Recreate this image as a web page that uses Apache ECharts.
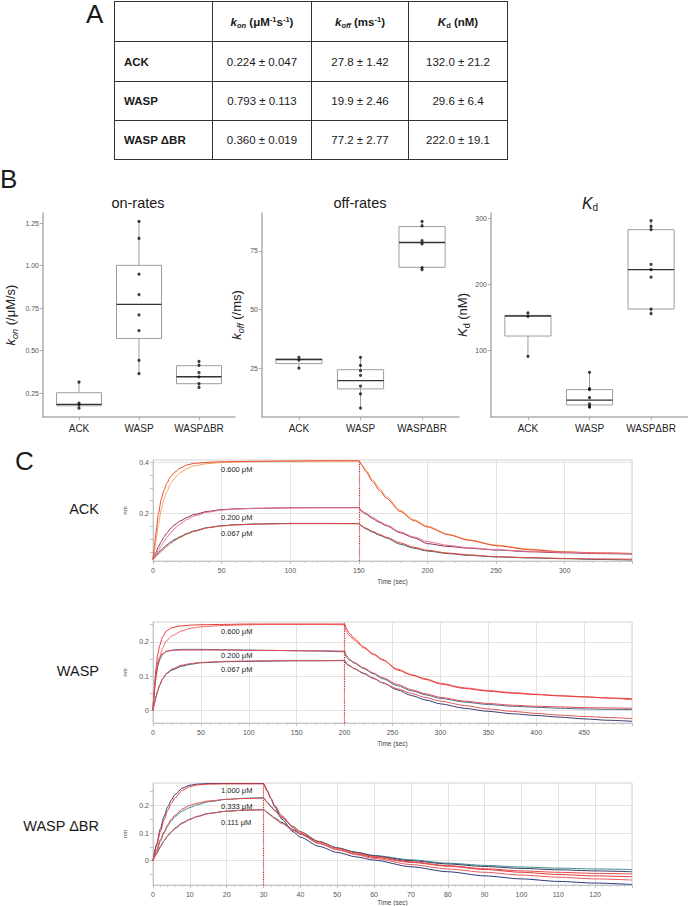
<!DOCTYPE html>
<html><head><meta charset="utf-8">
<script src="https://cdn.jsdelivr.net/npm/echarts@6/dist/echarts.min.js"></script>
<style>
html,body{margin:0;padding:0;background:#fff;}
#wrap{position:relative;width:688px;height:906px;overflow:hidden;}
#chart{position:absolute;left:0;top:0;width:688px;height:906px;}
#tbl{position:absolute;left:114px;top:1px;z-index:5;border-collapse:collapse;table-layout:fixed;width:393px;
 font-family:'Liberation Sans',Arial,sans-serif;font-size:11.5px;color:#1a1a1a;}
#tbl td{border:1.5px solid #333;padding:0;text-align:center;vertical-align:middle;white-space:nowrap;}
#tbl td.rl{text-align:left;padding-left:9px;font-weight:bold;}
#tbl td.h{font-weight:bold;}
#tbl sub,#tbl sup{font-size:7.5px;line-height:0;}
#tbl sub{vertical-align:-2px;}
#tbl sup{vertical-align:4px;}
</style></head>
<body>
<div id="wrap">
<div id="chart"></div>
<table id="tbl"><colgroup><col style="width:98px"><col style="width:99px"><col style="width:97px"><col style="width:99px"></colgroup><tbody id="tb"></tbody></table>
</div>
<script>
const FONT = "'Liberation Sans', Arial, Helvetica, sans-serif";

// ---------- A: table values ----------
const tableRows = ['ACK', 'WASP', 'WASP ΔBR'];
const konMean = [0.224, 0.793, 0.360];
const konErr = [0.047, 0.113, 0.019];
const koffMean = [27.8, 19.9, 77.2];
const koffErr = [1.42, 2.46, 2.77];
const kdMean = [132.0, 29.6, 222.0];
const kdErr = [21.2, 6.4, 19.1];

// ---------- B: box plots ----------
const boxCats = ['ACK', 'WASP', 'WASPΔBR'];
// [lower whisker, Q1, median, Q3, upper whisker]
const onBox = [[0.161, 0.175, 0.183, 0.252, 0.315], [0.364, 0.571, 0.772, 1.002, 1.26], [0.283, 0.305, 0.346, 0.411, 0.437]];
const onPts = [[0.315, 0.19, 0.181, 0.161], [1.26, 1.16, 0.95, 0.83, 0.71, 0.617, 0.443, 0.364], [0.437, 0.413, 0.37, 0.345, 0.305, 0.283]];
const offBox = [[25.0, 26.9, 28.6, 29.0, 29.6], [7.9, 16.1, 19.6, 24.3, 29.6], [67.0, 68.0, 78.6, 85.4, 87.6]];
const offPts = [[29.6, 28.4, 25.0], [29.6, 26.1, 23.9, 21.9, 17.3, 14.0, 7.9], [87.6, 85.7, 79.4, 78.0, 67.9, 67.0]];
const kdBox = [[90.4, 121.2, 151.5, 152.5, 156.1], [13.6, 16.7, 24.2, 40.0, 66.2], [155.0, 162.1, 221.7, 282.3, 296.0]];
const kdPts = [[156.1, 151.0, 90.4], [66.2, 41.4, 40.0, 27.8, 18.2, 14.6, 13.6], [296.0, 287.4, 282.3, 229.8, 221.7, 210.6, 162.1, 155.0]];
const onTicks = [0.25, 0.5, 0.75, 1.0, 1.25];
const offTicks = [25, 50, 75];
const kdTicks = [100, 200, 300];

// ---------- C: sensorgrams ----------
const ackTime = [0, 1, 2, 4, 6, 8, 10, 13, 16, 20, 25, 30, 40, 50, 60, 75, 100, 125, 150, 152, 155, 160, 165, 170, 180, 190, 200, 215, 230, 250, 275, 300, 325, 349];
const ack600fit = [0.02, 0.07, 0.12, 0.2, 0.255, 0.29, 0.318, 0.345, 0.362, 0.378, 0.39, 0.396, 0.4, 0.402, 0.403, 0.404, 0.405, 0.406, 0.406, 0.39, 0.365, 0.325, 0.29, 0.26, 0.208, 0.172, 0.147, 0.117, 0.095, 0.074, 0.058, 0.049, 0.045, 0.043];
const ack600dat = [0.02, 0.05, 0.09, 0.16, 0.215, 0.255, 0.285, 0.318, 0.34, 0.36, 0.376, 0.386, 0.395, 0.399, 0.401, 0.403, 0.404, 0.405, 0.405, 0.392, 0.37, 0.332, 0.298, 0.266, 0.213, 0.176, 0.15, 0.119, 0.097, 0.076, 0.06, 0.05, 0.046, 0.044];
const ack200dat = [0.024, 0.035, 0.047, 0.07, 0.09, 0.108, 0.123, 0.142, 0.157, 0.171, 0.185, 0.196, 0.208, 0.215, 0.218, 0.22, 0.222, 0.223, 0.223, 0.207, 0.198, 0.18, 0.165, 0.152, 0.125, 0.105, 0.082, 0.071, 0.064, 0.057, 0.05, 0.046, 0.043, 0.041];
const ack200fit = [0.024, 0.03, 0.038, 0.056, 0.073, 0.09, 0.105, 0.125, 0.142, 0.16, 0.177, 0.19, 0.205, 0.213, 0.217, 0.22, 0.222, 0.222, 0.222, 0.212, 0.202, 0.185, 0.169, 0.155, 0.128, 0.108, 0.09, 0.075, 0.066, 0.058, 0.052, 0.048, 0.045, 0.043];
const ack067dat = [0.021, 0.028, 0.035, 0.048, 0.058, 0.068, 0.077, 0.089, 0.099, 0.11, 0.122, 0.132, 0.145, 0.152, 0.156, 0.159, 0.161, 0.161, 0.16, 0.15, 0.14, 0.127, 0.115, 0.104, 0.08, 0.064, 0.053, 0.043, 0.036, 0.03, 0.026, 0.023, 0.02, 0.018];
const ack067fit = [0.021, 0.026, 0.031, 0.042, 0.052, 0.062, 0.071, 0.084, 0.095, 0.107, 0.12, 0.13, 0.144, 0.151, 0.155, 0.158, 0.16, 0.16, 0.16, 0.152, 0.143, 0.13, 0.118, 0.107, 0.085, 0.068, 0.056, 0.045, 0.038, 0.031, 0.027, 0.024, 0.022, 0.021];

const waspTime = [0, 1, 2, 3, 5, 7, 10, 14, 20, 30, 40, 50, 75, 100, 125, 150, 175, 200, 202, 205, 210, 220, 230, 240, 255, 270, 285, 300, 325, 350, 375, 400, 425, 450, 475, 500];
const wasp600fit = [0, 0.045, 0.085, 0.12, 0.165, 0.19, 0.215, 0.232, 0.242, 0.247, 0.249, 0.25, 0.251, 0.252, 0.252, 0.252, 0.252, 0.252, 0.238, 0.225, 0.21, 0.185, 0.165, 0.148, 0.118, 0.103, 0.09, 0.077, 0.064, 0.056, 0.05, 0.046, 0.042, 0.039, 0.036, 0.034];
const wasp600dat = [0, 0.035, 0.065, 0.09, 0.128, 0.155, 0.182, 0.203, 0.218, 0.232, 0.24, 0.244, 0.248, 0.25, 0.251, 0.251, 0.251, 0.25, 0.228, 0.218, 0.205, 0.182, 0.163, 0.146, 0.121, 0.104, 0.092, 0.079, 0.066, 0.058, 0.052, 0.047, 0.043, 0.04, 0.036, 0.031];
const wasp200dat = [0, 0.04, 0.075, 0.1, 0.13, 0.148, 0.164, 0.172, 0.176, 0.178, 0.178, 0.178, 0.177, 0.176, 0.175, 0.174, 0.173, 0.171, 0.155, 0.147, 0.138, 0.122, 0.107, 0.092, 0.072, 0.057, 0.045, 0.035, 0.024, 0.017, 0.012, 0.009, 0.006, 0.004, 0.003, 0.002];
const wasp200fit = [0, 0.05, 0.085, 0.11, 0.14, 0.155, 0.166, 0.172, 0.175, 0.176, 0.176, 0.176, 0.176, 0.175, 0.175, 0.174, 0.174, 0.173, 0.16, 0.15, 0.14, 0.124, 0.109, 0.095, 0.076, 0.06, 0.048, 0.038, 0.027, 0.02, 0.015, 0.012, 0.01, 0.008, 0.007, 0.006];
const wasp067dat = [0, 0.015, 0.028, 0.04, 0.058, 0.074, 0.092, 0.107, 0.118, 0.129, 0.135, 0.139, 0.142, 0.143, 0.144, 0.145, 0.145, 0.146, 0.135, 0.13, 0.122, 0.108, 0.094, 0.08, 0.06, 0.043, 0.03, 0.019, 0.006, -0.003, -0.01, -0.015, -0.02, -0.025, -0.029, -0.032];
const wasp067fit = [0, 0.012, 0.024, 0.036, 0.056, 0.073, 0.092, 0.108, 0.121, 0.132, 0.137, 0.14, 0.143, 0.144, 0.145, 0.145, 0.145, 0.145, 0.138, 0.131, 0.122, 0.107, 0.093, 0.08, 0.063, 0.049, 0.037, 0.027, 0.014, 0.004, -0.003, -0.009, -0.014, -0.018, -0.021, -0.024];

const dbrTime = [0, 1, 2, 3, 4, 5, 6, 8, 10, 12, 15, 20, 25, 30, 31, 32, 33, 35, 38, 40, 45, 50, 55, 60, 70, 80, 90, 100, 110, 120, 130];
const dbr1000dat = [0, 0.06, 0.115, 0.16, 0.195, 0.22, 0.24, 0.263, 0.273, 0.277, 0.279, 0.279, 0.279, 0.279, 0.255, 0.225, 0.195, 0.15, 0.105, 0.085, 0.052, 0.03, 0.014, 0.002, -0.022, -0.04, -0.055, -0.066, -0.075, -0.081, -0.086];
const dbr1000fit = [0, 0.055, 0.105, 0.148, 0.182, 0.208, 0.228, 0.255, 0.268, 0.274, 0.277, 0.278, 0.278, 0.278, 0.25, 0.225, 0.2, 0.162, 0.12, 0.098, 0.062, 0.04, 0.024, 0.012, -0.006, -0.02, -0.032, -0.042, -0.05, -0.055, -0.058];
const dbr333dat = [0, 0.035, 0.07, 0.1, 0.125, 0.145, 0.16, 0.18, 0.192, 0.202, 0.213, 0.222, 0.226, 0.228, 0.212, 0.197, 0.183, 0.158, 0.124, 0.105, 0.07, 0.047, 0.031, 0.019, 0.003, -0.009, -0.017, -0.023, -0.027, -0.03, -0.032];
const dbr333fit = [0, 0.04, 0.075, 0.105, 0.13, 0.15, 0.165, 0.187, 0.2, 0.208, 0.216, 0.222, 0.225, 0.226, 0.21, 0.195, 0.18, 0.155, 0.123, 0.104, 0.069, 0.045, 0.028, 0.015, -0.004, -0.018, -0.029, -0.037, -0.042, -0.046, -0.048];
const dbr111dat = [0, 0.025, 0.05, 0.072, 0.09, 0.105, 0.118, 0.137, 0.15, 0.16, 0.171, 0.179, 0.183, 0.184, 0.175, 0.165, 0.155, 0.138, 0.113, 0.098, 0.068, 0.046, 0.03, 0.017, 0.0, -0.012, -0.021, -0.028, -0.033, -0.037, -0.04];
const dbr111fit = [0, 0.028, 0.052, 0.072, 0.089, 0.104, 0.116, 0.135, 0.149, 0.159, 0.17, 0.179, 0.183, 0.184, 0.173, 0.162, 0.152, 0.134, 0.11, 0.095, 0.063, 0.04, 0.022, 0.008, -0.014, -0.03, -0.042, -0.052, -0.06, -0.066, -0.07];

const switchTimes = [150, 200, 30];
const concLabels = [['0.600 μM', '0.200 μM', '0.067 μM'], ['0.600 μM', '0.200 μM', '0.067 μM'], ['1.000 μM', '0.333 μM', '0.111 μM']];
const panelNames = ['ACK', 'WASP', 'WASP ΔBR'];
const ackYLabels = [0.2, 0.4];
const ackYMinor = [0.05, 0.1, 0.15, 0.2, 0.25, 0.3, 0.35, 0.4];
const ackYGrid = [0.2, 0.4];
const waspYLabels = [0, 0.1, 0.2];
const waspYMinor = [0, 0.05, 0.1, 0.15, 0.2, 0.25];
const waspYGrid = [0, 0.1, 0.2];
const dbrYLabels = [0, 0.1, 0.2];
const dbrYMinor = [-0.05, 0, 0.05, 0.1, 0.15, 0.2, 0.25];
const dbrYGrid = [0, 0.1, 0.2];

// ---------- build table ----------
(function () {
  const rowH = [40, 40, 39, 39];
  let h = '<tr style="height:' + rowH[0] + 'px"><td></td>' +
    '<td class="h"><i>k</i><sub><i>on</i></sub> (μM<sup>-1</sup>s<sup>-1</sup>)</td>' +
    '<td class="h"><i>k</i><sub><i>off</i></sub> (ms<sup>-1</sup>)</td>' +
    '<td class="h"><i>K</i><sub>d</sub> (nM)</td></tr>';
  tableRows.forEach(function (r, i) {
    h += '<tr style="height:' + rowH[i + 1] + 'px"><td class="rl">' + r + '</td><td>' +
      konMean[i].toFixed(3) + ' ± ' + konErr[i] + '</td><td>' +
      koffMean[i].toFixed(1) + ' ± ' + koffErr[i] + '</td><td>' +
      kdMean[i].toFixed(1) + ' ± ' + kdErr[i] + '</td></tr>';
  });
  document.getElementById('tb').innerHTML = h;
})();

// ---------- chart ----------
const chart = echarts.init(document.getElementById('chart'), null, { renderer: 'svg' });

const grids = [
  { left: 43, top: 213, width: 192, height: 204 },
  { left: 262, top: 213, width: 197, height: 204 },
  { left: 491, top: 213, width: 197, height: 204 },
  { left: 153, top: 460, width: 479, height: 101, show: true, borderColor: '#d2d2d2', borderWidth: 1, backgroundColor: 'transparent' },
  { left: 153, top: 622, width: 479, height: 101, show: true, borderColor: '#d2d2d2', borderWidth: 1, backgroundColor: 'transparent' },
  { left: 153, top: 783, width: 479, height: 102, show: true, borderColor: '#d2d2d2', borderWidth: 1, backgroundColor: 'transparent' }
].map(g => Object.assign({ containLabel: false, outerBoundsMode: 'none' }, g));

const richName = {
  k: { fontSize: 13, fontStyle: 'italic', color: '#222', fontFamily: FONT },
  s: { fontSize: 9, fontStyle: 'italic', color: '#222', fontFamily: FONT, padding: [8, 0, 0, 0] },
  d: { fontSize: 9, color: '#222', fontFamily: FONT, padding: [8, 0, 0, 0] },
  n: { fontSize: 13, color: '#222', fontFamily: FONT }
};

const boxYCfg = [
  { min: 0.109, max: 1.31, ticks: onTicks, fmt: v => v.toFixed(2), name: '{k|k}{s|on}{n| (/μM/s)}', gap: 24 },
  { min: 4.1, max: 91.2, ticks: offTicks, fmt: v => String(v), name: '{k|k}{s|off}{n| (/ms)}', gap: 17 },
  { min: -1.5, max: 307.6, ticks: kdTicks, fmt: v => String(v), name: '{k|K}{d|d}{n| (nM)}', gap: 18 }
];

const xAxes = [];
const yAxes = [];
[0, 1, 2].forEach(i => {
  xAxes.push({
    type: 'value', gridIndex: i, min: 0.4, max: 3.6,
    axisLine: { show: true, onZero: false, lineStyle: { color: '#adadad', width: 1.5 } },
    axisTick: { show: true, customValues: [1, 2, 3], length: 3, lineStyle: { color: '#adadad' } },
    axisLabel: { customValues: [1, 2, 3], formatter: v => boxCats[Math.round(v) - 1], fontSize: 10, color: '#222', fontFamily: FONT, margin: 6 },
    splitLine: { show: false }
  });
  const c = boxYCfg[i];
  yAxes.push({
    type: 'value', gridIndex: i, min: c.min, max: c.max,
    axisLine: { show: true, onZero: false, lineStyle: { color: '#adadad', width: 1.5 } },
    axisTick: { show: true, customValues: c.ticks, length: 3, lineStyle: { color: '#adadad' } },
    axisLabel: { customValues: c.ticks, formatter: c.fmt, fontSize: 7, color: '#555', fontFamily: FONT, margin: 4 },
    splitLine: { show: false },
    name: c.name, nameLocation: 'middle', nameGap: c.gap, nameRotate: 90,
    nameTextStyle: { rich: richName }
  });
});

const senCfg = [
  { xmax: 349, xint: 50, ymin: 0.014, ymax: 0.409, lab: ackYLabels, minor: ackYMinor, grid: ackYGrid, ngap: 17 },
  { xmax: 500, xint: 50, ymin: -0.037, ymax: 0.258, lab: waspYLabels, minor: waspYMinor, grid: waspYGrid, ngap: 17 },
  { xmax: 130, xint: 10, ymin: -0.088, ymax: 0.281, lab: dbrYLabels, minor: dbrYMinor, grid: dbrYGrid, ngap: 14 }
];
senCfg.forEach((c, i) => {
  xAxes.push({
    type: 'value', gridIndex: 3 + i, min: 0, max: c.xmax, interval: c.xint,
    axisLine: { show: true, onZero: false, lineStyle: { color: '#c4c4c4' } },
    axisTick: { show: true, length: 3, lineStyle: { color: '#bdbdbd' } },
    minorTick: { show: true, splitNumber: 5, length: 2, lineStyle: { color: '#c4c4c4' } },
    axisLabel: { fontSize: 7, color: '#555', fontFamily: FONT, margin: 6, showMaxLabel: false,
      formatter: v => (Math.abs(v % c.xint) < 1e-9 ? String(v) : '') },
    splitLine: { show: true, lineStyle: { color: '#e2e2e2' } },
    name: 'Time (sec)', nameLocation: 'middle', nameGap: c.ngap,
    nameTextStyle: { fontSize: 6.5, color: '#444', fontFamily: FONT }
  });
});
senCfg.forEach((c, i) => {
  yAxes.push({
    type: 'value', gridIndex: 3 + i, min: c.ymin, max: c.ymax,
    axisLine: { show: true, onZero: false, lineStyle: { color: '#c4c4c4' } },
    axisTick: { show: true, customValues: c.minor, length: 3, lineStyle: { color: '#bdbdbd' } },
    axisLabel: { customValues: c.lab, fontSize: 7, color: '#555', fontFamily: FONT, margin: 4,
      formatter: v => String(Math.round(v * 100) / 100) },
    splitLine: { show: false },
    name: 'nm', nameLocation: 'middle', nameGap: 18, nameRotate: 90,
    nameTextStyle: { fontSize: 6, color: '#444', fontFamily: FONT }
  });
});
senCfg.forEach((c, i) => {
  yAxes.push({
    type: 'value', gridIndex: 3 + i, min: c.ymin, max: c.ymax, position: 'left',
    axisLine: { show: false }, axisLabel: { show: false },
    axisTick: { show: false, customValues: c.grid },
    splitLine: { show: true, lineStyle: { color: '#e2e2e2' } }
  });
});

function renderBox(params, api) {
  const x = api.value(0);
  const lo = api.coord([x, api.value(1)]);
  const q1 = api.coord([x, api.value(2)]);
  const md = api.coord([x, api.value(3)]);
  const q3 = api.coord([x, api.value(4)]);
  const hi = api.coord([x, api.value(5)]);
  const w = api.size([0.75, 0])[0];
  const cx = md[0];
  const st = { stroke: '#9d9d9d', lineWidth: 1, fill: null };
  return {
    type: 'group', children: [
      { type: 'line', shape: { x1: cx, y1: hi[1], x2: cx, y2: q3[1] }, style: st },
      { type: 'line', shape: { x1: cx, y1: q1[1], x2: cx, y2: lo[1] }, style: st },
      { type: 'rect', shape: { x: cx - w / 2, y: q3[1], width: w, height: q1[1] - q3[1] }, style: { fill: '#fff', stroke: '#9d9d9d', lineWidth: 1 } },
      { type: 'line', shape: { x1: cx - w / 2, y1: md[1], x2: cx + w / 2, y2: md[1] }, style: { stroke: '#333', lineWidth: 1.3 } }
    ]
  };
}

const series = [];
[[onBox, onPts], [offBox, offPts], [kdBox, kdPts]].forEach((bp, i) => {
  series.push({
    type: 'custom', xAxisIndex: i, yAxisIndex: i, renderItem: renderBox, silent: true,
    encode: { x: 0, y: [1, 2, 3, 4, 5] },
    data: bp[0].map((s, k) => [k + 1].concat(s)), z: 2
  });
  const pts = [];
  bp[1].forEach((arr, k) => arr.forEach(v => pts.push([k + 1, v])));
  series.push({
    type: 'scatter', xAxisIndex: i, yAxisIndex: i, symbolSize: 3.2, silent: true,
    itemStyle: { color: '#111' }, data: pts, z: 3
  });
});

const senSets = [
  { t: ackTime, lines: [[ack600dat, '#f4a55f'], [ack200dat, '#8a2d55'], [ack067dat, '#3c5d64'], [ack600fit, '#ea4a2a'], [ack200fit, '#e6738f'], [ack067fit, '#e2483d']] },
  { t: waspTime, lines: [[wasp600dat, '#f26a6a'], [wasp200dat, '#4a6d84'], [wasp067dat, '#3a3e70'], [wasp600fit, '#e53935'], [wasp200fit, '#e0505a'], [wasp067fit, '#db5a5a']] },
  { t: dbrTime, lines: [[dbr1000dat, '#2e3a78'], [dbr333dat, '#3f8d92'], [dbr111dat, '#3a3c5e'], [dbr1000fit, '#e53935'], [dbr333fit, '#e04848'], [dbr111fit, '#e35d5d']] }
];
senSets.forEach((s, p) => {
  s.lines.forEach((ln, j) => {
    const ser = {
      type: 'line', xAxisIndex: 3 + p, yAxisIndex: 3 + p, showSymbol: false, symbol: 'none',
      smooth: 0.25, smoothMonotone: 'x', silent: true,
      lineStyle: { color: ln[1], width: 1 },
      data: s.t.map((t, k) => [t, ln[0][k]]), z: 3
    };
    if (j === 0) {
      ser.markLine = {
        symbol: 'none', silent: true, label: { show: false },
        lineStyle: { color: '#e02a2a', type: 'dotted', width: 1.2 },
        data: [{ xAxis: switchTimes[p] }]
      };
    }
    series.push(ser);
  });
});

const txt = (text, x, y, size, align, extra) => ({
  type: 'text', silent: true, z: 10,
  style: Object.assign({ text: text, x: x, y: y, fill: '#1a1a1a', font: size + 'px ' + FONT, align: align || 'left', verticalAlign: 'middle' }, extra || {})
});

const graphics = [
  txt('A', 86, 14, 26),
  txt('B', 0, 179, 26),
  txt('C', 15, 461, 26),
  txt('on-rates', 138, 203, 14.5, 'center'),
  txt('off-rates', 360, 203, 14.5, 'center'),
  { type: 'text', silent: true, z: 10,
    style: { text: '{K|K}{d|d}', x: 590, y: 203, align: 'center', verticalAlign: 'middle',
      rich: { K: { fontSize: 16, fontStyle: 'italic', fontFamily: FONT, fill: '#1a1a1a', color: '#1a1a1a' },
              d: { fontSize: 10, fontFamily: FONT, fill: '#1a1a1a', color: '#1a1a1a', padding: [8, 0, 0, 0] } } } },
  txt(panelNames[0], 99, 509, 14.5, 'right'),
  txt(panelNames[1], 99, 671, 14.5, 'right'),
  txt(panelNames[2], 99, 826, 14.5, 'right')
];
const labelY = [[469, 517, 533], [631, 655, 669], [790, 806, 822]];
concLabels.forEach((arr, p) => arr.forEach((l, j) => graphics.push(txt(l, 221, labelY[p][j], 7.5, 'left', { fill: '#222' }))));

chart.setOption({
  animation: false,
  backgroundColor: '#fff',
  textStyle: { fontFamily: FONT },
  grid: grids,
  xAxis: xAxes,
  yAxis: yAxes,
  series: series,
  graphic: { elements: graphics }
});
</script>
</body></html>
